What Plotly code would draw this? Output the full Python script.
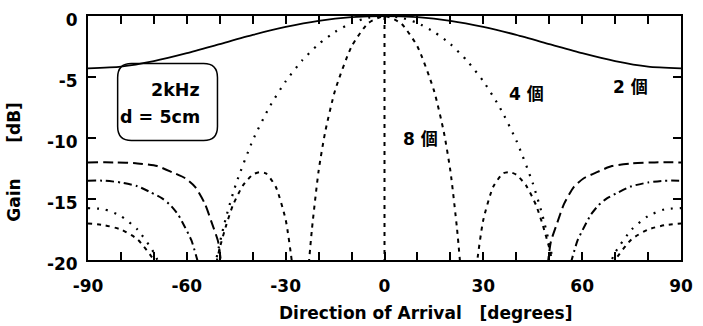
import plotly.graph_objects as go

# ---- data ----
# 2 microphones (solid)
n2_deg = [-90, -80, -70, -60, -50, -40, -30, -20, -10, 0, 10, 20, 30, 40, 50, 60, 70, 80, 90]
n2_db = [-4.3, -4.15, -3.7, -3.05, -2.3, -1.55, -0.9, -0.4, -0.1, 0, -0.1, -0.4, -0.9, -1.55, -2.3, -3.05, -3.7, -4.15, -4.3]

# 4 microphones (dotted): main lobe, then side lobes at both ends
n4_deg = [-51.5, -50, -48, -45, -40, -35, -30, -25, -20, -15, -10, -5, 0, 5, 10, 15, 20, 25, 30, 35, 40, 45, 48, 50, 51.5,
          None, -90, -85, -80, -75, -70, -68, None, 68, 70, 75, 80, 85, 90]
n4_db = [-20.5, -18.6, -16.4, -13.7, -10.2, -7.5, -5.35, -3.65, -2.3, -1.3, -0.57, -0.14, 0, -0.14, -0.57, -1.3, -2.3, -3.65, -5.35, -7.5, -10.2, -13.7, -16.4, -18.6, -20.5,
         None, -15.75, -15.85, -16.4, -17.5, -19.4, -20.6, None, -20.6, -19.4, -17.5, -16.4, -15.85, -15.75]

# 8 microphones (dashed): main lobe, first and second side lobes
n8_deg = [-23.2, -22, -20, -18, -15, -10, -5, 0, 5, 10, 15, 18, 20, 22, 23.2,
          None, -51, -50, -48, -46, -43, -40, -38, -36, -33, -30, -28, -27.5,
          None, 27.5, 28, 30, 33, 36, 38, 40, 43, 46, 48, 50, 51,
          None, -90, -85, -80, -75, -70, -68, None, 68, 70, 75, 80, 85, 90]
n8_db = [-21.0, -17.4, -12.7, -9.5, -6.1, -2.5, -0.6, 0, -0.6, -2.5, -6.1, -9.5, -12.7, -17.4, -21.0,
         None, -20.2, -19.0, -17.1, -15.5, -13.9, -13.0, -12.8, -12.9, -14.0, -16.7, -20.4, -22.0,
         None, -22.0, -20.4, -16.7, -14.0, -12.9, -12.8, -13.0, -13.9, -15.5, -17.1, -19.0, -20.2,
         None, -17.0, -17.15, -17.5, -18.3, -20.0, -21.0, None, -21.0, -20.0, -18.3, -17.5, -17.15, -17.0]

# long-dashed side-lobe curve
ld_deg = [-90, -82, -75, -69, -64.5, -60.5, -57.5, -54.5, -52.5, -50.5, -49.5,
          None, 49.5, 50.5, 52.5, 54.5, 57.5, 60.5, 64.5, 69, 75, 82, 90]
ld_db = [-12.0, -12.0, -12.08, -12.3, -12.8, -13.3, -14.0, -15.4, -16.9, -18.5, -20.5,
         None, -20.5, -18.5, -16.9, -15.4, -14.0, -13.3, -12.8, -12.3, -12.08, -12.0, -12.0]

# dash-dot side-lobe curve
dd_deg = [-90, -85, -80, -75, -71, -67.5, -65, -62.6, -60.6, -58.6, -56.5,
          None, 56.5, 58.6, 60.6, 62.6, 65, 67.5, 71, 75, 80, 85, 90]
dd_db = [-13.5, -13.5, -13.65, -13.95, -14.45, -14.95, -15.5, -16.3, -17.3, -18.4, -20.3,
         None, -20.3, -18.4, -17.3, -16.3, -15.5, -14.95, -14.45, -13.95, -13.65, -13.5, -13.5]

# broadside reference (dashed vertical)
broadside_deg = [0, 0]
broadside_db = [0, -20]

x_ticks = [-90, -60, -30, 0, 30, 60, 90]
y_ticks = [0, -5, -10, -15, -20]

labels_text = ["2 個", "4 個", "8 個"]
labels_deg = [74.8, 43.2, 11.0]
labels_db = [-5.8, -6.4, -10.1]

FONT = "DejaVu Sans"
fig = go.Figure()

def add(xs, ys, dash, width=2.0):
    fig.add_trace(go.Scatter(x=xs, y=ys, mode="lines", line=dict(color="black", width=width, dash=dash, shape="spline", smoothing=0.6),
                             connectgaps=False, showlegend=False, hoverinfo="skip"))

add(n2_deg, n2_db, "solid", 1.8)
add(n4_deg, n4_db, "2px,7px", 2.2)
add(n8_deg, n8_db, "4px,5px", 2.0)
add(ld_deg, ld_db, "10px,5px", 2.0)
add(dd_deg, dd_db, "8px,4px,2px,4px", 2.0)
add(broadside_deg, broadside_db, "4px,5px", 2.0)

for t, xd, yd in zip(labels_text, labels_deg, labels_db):
    fig.add_annotation(x=xd, y=yd, text=t, showarrow=False,
                       font=dict(family=FONT + ", Noto Sans CJK JP", size=17, color="black", weight="bold"))

# rounded box with frequency / spacing note
x0, x1, y0, y1, rx, ry = -81.0, -50.7, -10.2, -3.9, 4.2, 1.15
path = (f"M {x0+rx},{y1} L {x1-rx},{y1} Q {x1},{y1} {x1},{y1-ry} L {x1},{y0+ry} Q {x1},{y0} {x1-rx},{y0} "
        f"L {x0+rx},{y0} Q {x0},{y0} {x0},{y0+ry} L {x0},{y1-ry} Q {x0},{y1} {x0+rx},{y1} Z")
fig.add_shape(type="path", path=path, xref="x", yref="y", line=dict(color="black", width=1.5))
fig.add_annotation(x=-55.4, y=-6.1, text="2kHz", showarrow=False, xanchor="right",
                   font=dict(family=FONT, size=17.5, color="black", weight="bold"))
fig.add_annotation(x=-55.4, y=-8.3, text="d = 5cm", showarrow=False, xanchor="right",
                   font=dict(family=FONT, size=17.5, color="black", weight="bold"))

# axis titles
fig.add_annotation(xref="paper", yref="paper", x=0.5695, y=-0.216, yanchor="middle",
                   text="Direction of Arrival\u00a0\u00a0\u00a0[degrees]", showarrow=False,
                   font=dict(family=FONT, size=17, color="black", weight="bold"))
fig.add_annotation(xref="paper", yref="paper", x=-0.124, y=0.405, xanchor="center", yanchor="middle",
                   text="Gain\u00a0\u00a0\u00a0\u00a0\u00a0\u00a0[dB]", textangle=-90, showarrow=False,
                   font=dict(family=FONT, size=17, color="black", weight="bold"))

fig.update_layout(
    width=703, height=326, margin=dict(l=88, r=11, t=10, b=66),
    paper_bgcolor="white", plot_bgcolor="white",
    font=dict(family=FONT, size=17, color="black", weight="bold"),
    xaxis=dict(range=[-90, 90], tickvals=x_ticks, ticktext=[str(v) for v in x_ticks],
               ticks="inside", ticklen=8, tickwidth=2, tickcolor="black",
               showline=True, linewidth=2, linecolor="black", mirror="allticks",
               showgrid=False, zeroline=False, ticklabelstandoff=10,
               minor=dict(dtick=10, tick0=0, ticks="inside", ticklen=8, tickwidth=2, tickcolor="black", showgrid=False),
               tickfont=dict(family=FONT, size=17, color="black", weight="bold")),
    yaxis=dict(range=[-20, 0], tickvals=y_ticks, ticktext=[str(v) for v in y_ticks],
               ticks="inside", ticklen=8, tickwidth=2, tickcolor="black",
               showline=True, linewidth=2, linecolor="black", mirror="allticks",
               showgrid=False, zeroline=False, ticklabelstandoff=5,
               ticklabelshift=4, ticklabeloverflow="allow",
               tickfont=dict(family=FONT, size=17, color="black", weight="bold")),
)

fig.write_html("out.html")
